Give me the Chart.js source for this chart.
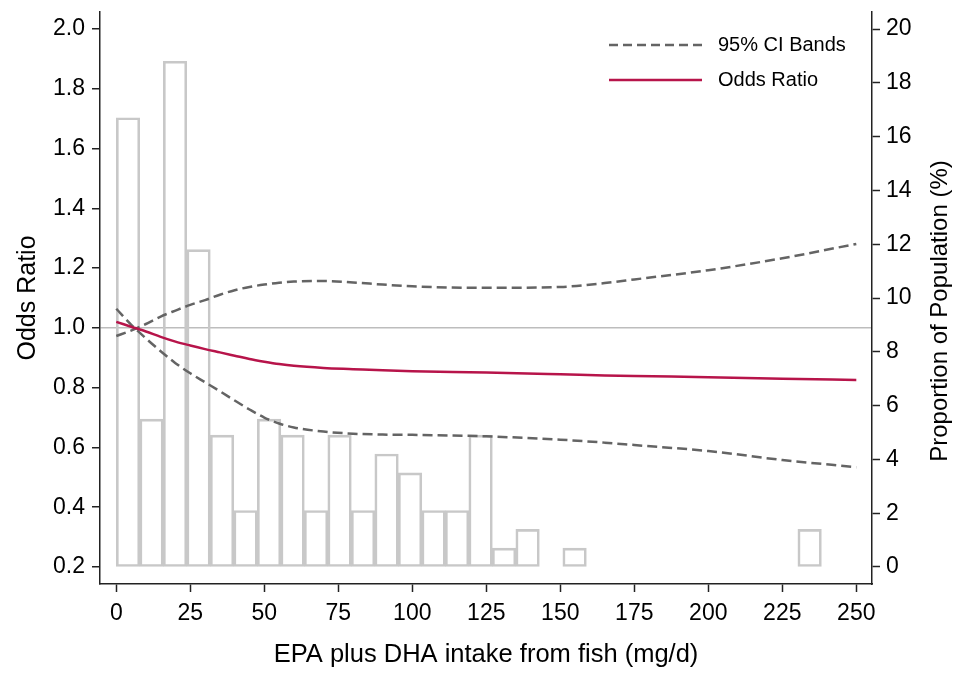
<!DOCTYPE html>
<html>
<head>
<meta charset="utf-8">
<script src="https://cdn.jsdelivr.net/npm/chart.js@4.4.1/dist/chart.umd.min.js"></script>
<style>
  html, body { margin: 0; padding: 0; background: #fff; }
  #wrap { width: 958px; height: 673px; }
</style>
</head>
<body>
<div id="wrap"><canvas id="or-chart"></canvas></div>
<script>
const xTicks = [0, 25, 50, 75, 100, 125, 150, 175, 200, 225, 250];
const leftTicks = [0.2, 0.4, 0.6, 0.8, 1.0, 1.2, 1.4, 1.6, 1.8, 2.0];
const rightTicks = [0, 2, 4, 6, 8, 10, 12, 14, 16, 18, 20];

// histogram bins (mg/d centres) and share of population (%)
const binCenters = [3.97, 11.91, 19.85, 27.79, 35.73, 43.67, 51.61, 59.55, 67.49, 75.43,
  83.37, 91.31, 99.25, 107.19, 115.13, 123.07, 131.01, 138.95, 146.89, 154.83,
  162.77, 170.71, 178.65, 186.59, 194.53, 202.47, 210.41, 218.35, 226.29, 234.23];
const binPercent = [16.7, 5.5, 18.8, 11.8, 4.9, 2.1, 5.5, 4.9, 2.1, 4.9,
  2.1, 4.2, 3.5, 2.1, 2.1, 4.9, 0.7, 1.4, null, 0.7,
  null, null, null, null, null, null, null, null, null, 1.4];

// spline curves
const curveX = [0, 5, 10, 15, 20, 25, 30, 35, 40, 45, 50, 55, 60, 70, 80, 90, 100, 125, 150, 165, 175, 200, 225, 250];
const oddsRatio = [1.02, 1.004, 0.988, 0.970, 0.954, 0.941, 0.929, 0.918, 0.907, 0.896, 0.887, 0.879, 0.873,
  0.866, 0.862, 0.858, 0.855, 0.851, 0.845, 0.841, 0.839, 0.835, 0.830, 0.826];
const ciUpper = [0.973, 0.991, 1.013, 1.038, 1.058, 1.077, 1.093, 1.111, 1.126, 1.137, 1.145, 1.151, 1.155,
  1.157, 1.152, 1.145, 1.139, 1.134, 1.137, 1.150, 1.162, 1.193, 1.233, 1.281];
const ciLower = [1.064, 1.011, 0.965, 0.922, 0.882, 0.848, 0.818, 0.788, 0.757, 0.727, 0.700, 0.680, 0.667,
  0.653, 0.646, 0.643, 0.642, 0.637, 0.626, 0.616, 0.608, 0.588, 0.558, 0.534];

const FONT = "'Liberation Sans', Arial, sans-serif";
const RED = "#b7144a";
const GREY = "#646464";

const pts = (xs, ys) => xs.map((x, i) => ({ x: x, y: ys[i] }));

const overlay = {
  id: "overlay",
  afterDraw(chart) {
    const { ctx, chartArea } = chart;
    ctx.save();
    // legend
    const x0 = chartArea.right - 263, x1 = chartArea.right - 170;
    const items = [
      { label: "95% CI Bands", color: GREY, dash: [9, 5], y: chartArea.top + 33 },
      { label: "Odds Ratio", color: RED, dash: [], y: chartArea.top + 68 },
    ];
    ctx.font = "20px " + FONT;
    ctx.textBaseline = "middle";
    ctx.textAlign = "left";
    items.forEach((it) => {
      ctx.strokeStyle = it.color;
      ctx.lineWidth = 2.5;
      ctx.setLineDash(it.dash);
      ctx.beginPath();
      ctx.moveTo(x0, it.y);
      ctx.lineTo(x1, it.y);
      ctx.stroke();
      ctx.fillStyle = "#000";
      ctx.fillText(it.label, chartArea.right - 154, it.y);
    });
    ctx.setLineDash([]);
    // right axis title, reading bottom to top
    ctx.translate(940, (chartArea.top + chartArea.bottom) / 2 + 13);
    ctx.rotate(-Math.PI / 2);
    ctx.textAlign = "center";
    ctx.font = "24px " + FONT;
    ctx.fillText("Proportion of Population (%)", 0, 0);
    ctx.restore();
  },
};

const noPad = (s, w) => { s.width = w; s.paddingTop = 0; s.paddingBottom = 0; };

new Chart(document.getElementById("or-chart"), {
  type: "line",
  data: {
    datasets: [
      {
        label: "Odds Ratio",
        data: pts(curveX, oddsRatio),
        borderColor: RED,
        borderWidth: 2.5,
        pointRadius: 0,
        cubicInterpolationMode: "monotone",
        yAxisID: "y",
        order: 0,
      },
      {
        label: "95% CI upper",
        data: pts(curveX, ciUpper),
        borderColor: GREY,
        borderWidth: 2.5,
        borderDash: [10, 5],
        pointRadius: 0,
        cubicInterpolationMode: "monotone",
        yAxisID: "y",
        order: 1,
      },
      {
        label: "95% CI lower",
        data: pts(curveX, ciLower),
        borderColor: GREY,
        borderWidth: 2.5,
        borderDash: [10, 5],
        pointRadius: 0,
        cubicInterpolationMode: "monotone",
        yAxisID: "y",
        order: 1,
      },
      {
        type: "bar",
        label: "Proportion",
        data: pts(binCenters, binPercent),
        backgroundColor: "rgba(255,255,255,0)",
        borderColor: "#c8c8c8",
        borderWidth: 2,
        borderSkipped: false,
        barPercentage: 1,
        categoryPercentage: 1,
        yAxisID: "y2",
        order: 3,
      },
    ],
  },
  options: {
    responsive: true,
    maintainAspectRatio: false,
    animation: false,
    layout: { padding: { top: 12, left: 0, right: 0, bottom: 0 } },
    plugins: {
      legend: { display: false },
      tooltip: { enabled: false },
      title: { display: false },
    },
    scales: {
      x: {
        type: "linear",
        min: -5.5,
        max: 255.3,
        offset: false,
        afterBuildTicks: (s) => { s.ticks = xTicks.map((v) => ({ value: v })); },
        afterFit: (s) => { s.height = 89; },
        ticks: { font: { family: FONT, size: 23 }, color: "#000", padding: 8, maxRotation: 0, autoSkip: false, callback: (v) => String(v) },
        grid: { offset: false, drawOnChartArea: false, drawTicks: true, tickLength: 8, tickColor: "#222", tickWidth: 1.5 },
        border: { display: true, color: "#222", width: 1.5 },
        title: { display: true, text: "EPA plus DHA intake from fish (mg/d)", color: "#000", font: { family: FONT, size: 25.5 }, padding: { top: 0, bottom: 3 } },
      },
      y: {
        type: "linear",
        position: "left",
        min: 0.143,
        max: 2.057,
        afterBuildTicks: (s) => { s.ticks = leftTicks.map((v) => ({ value: v })); },
        afterFit: (s) => noPad(s, 100),
        ticks: { font: { family: FONT, size: 23 }, color: "#000", padding: 7, callback: (v) => v.toFixed(1) },
        grid: {
          drawOnChartArea: true,
          color: (c) => (c.tick && c.tick.value === 1.0 ? "#bdbdbd" : "rgba(0,0,0,0)"),
          lineWidth: 1.5,
          tickLength: 8,
          tickColor: "#222",
          tickWidth: 1.5,
        },
        border: { display: true, color: "#222", width: 1.5 },
        title: { display: true, text: "Odds Ratio", color: "#000", font: { family: FONT, size: 25 }, padding: { top: 13, bottom: 0 } },
      },
      y2: {
        type: "linear",
        position: "right",
        min: -0.632,
        max: 20.632,
        afterBuildTicks: (s) => { s.ticks = rightTicks.map((v) => ({ value: v })); },
        afterFit: (s) => noPad(s, 86),
        ticks: { font: { family: FONT, size: 23 }, color: "#000", padding: 6, callback: (v) => String(v) },
        grid: { drawOnChartArea: false, tickLength: 8, tickColor: "#222", tickWidth: 1.5 },
        border: { display: true, color: "#222", width: 1.5 },
      },
    },
  },
  plugins: [overlay],
});
</script>
</body>
</html>
